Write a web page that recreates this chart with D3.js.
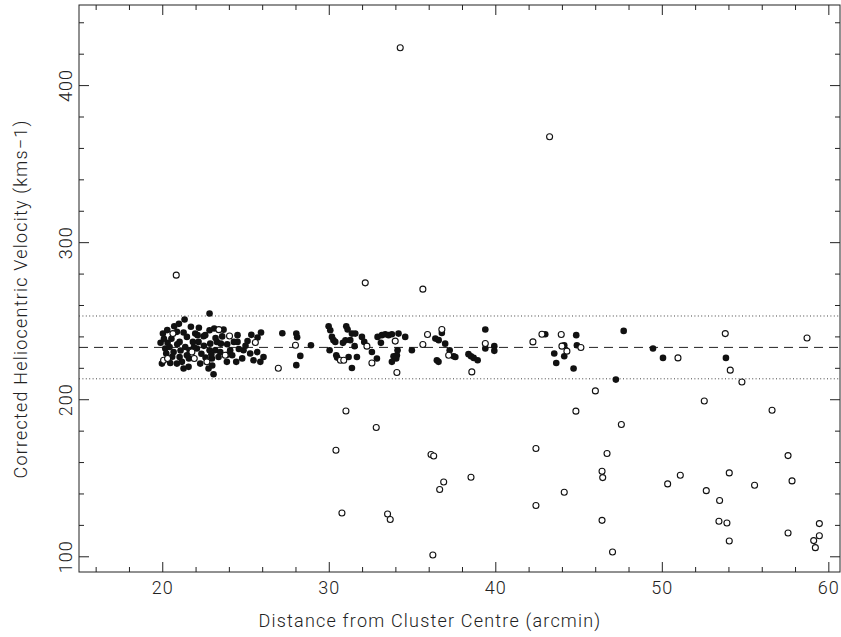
<!DOCTYPE html>
<html>
<head>
<meta charset="utf-8">
<script src="https://cdn.jsdelivr.net/npm/d3@7"></script>
<style>
    body { margin: 0; background: #fff; }
    text { font-family: "Roboto", "DejaVu Sans", sans-serif; font-weight: 300; fill: #222; }
</style>
</head>
<body>
<script>
(function () {
    // members (filled) : distance (arcmin), velocity (km/s)
    var memberDist = [
        20.04, 20.72, 20.88, 21.34, 21.28, 21.72, 21.98, 22.12, 22.48, 20.32, 20.18, 20.44, 20.24, 20.68, 19.98,
        20.48, 20.88, 21.18, 21.28, 21.04, 21.48, 21.38, 21.64, 22.08, 22.28, 21.58, 21.04, 21.84, 22.18, 21.48,
        22.84, 22.84, 23.12, 23.68, 24.52, 24.52, 22.88, 23.28, 23.52, 23.18, 22.84, 23.48, 23.38, 22.78, 23.08,
        22.98, 23.88, 24.44, 24.08, 22.58, 25.12, 24.88, 25.28, 25.48, 25.72, 25.93, 25.89, 26.08,
        19.90, 20.10, 20.55, 20.60, 20.90, 21.10, 21.60, 21.90, 22.35, 22.50, 22.60, 22.95, 23.20, 23.60, 23.90,
        24.20, 24.60, 24.80, 25.00, 25.35, 25.70, 23.00, 21.00, 20.30, 22.20, 23.90, 24.30,
        27.21, 28.05, 28.10, 28.29, 28.05, 28.93,
        29.99, 30.09, 30.19, 30.28, 30.39, 30.05, 30.45, 30.50, 31.05, 31.13, 30.85, 31.00, 31.29, 31.39, 31.19,
        31.39, 31.59, 31.55, 31.69, 31.99, 32.13, 32.59, 32.89, 32.93, 33.19, 33.39, 33.59, 33.79, 33.13, 34.19,
        34.13, 34.09, 33.89, 34.05, 33.79, 34.59, 34.99,
        36.40, 36.60, 36.79, 36.99, 36.49, 36.59, 37.26, 37.50, 37.60, 38.39, 38.54, 38.70, 38.94, 39.40, 39.40,
        39.94, 39.94,
        43.00, 44.14, 44.86, 44.90, 43.54, 43.66, 44.14, 44.70, 47.24, 47.71,
        49.47, 50.07, 53.85
    ];
    var memberVel = [
        241.8, 246.5, 242.9, 250.8, 242.5, 246.1, 241.8, 240.8, 240.1, 235.9, 232.3, 233.3, 229.1, 230.1, 222.7,
        223.1, 222.7, 223.8, 219.6, 226.9, 228.0, 233.3, 231.2, 232.3, 222.7, 220.6, 236.5, 236.5, 236.5, 239.7,
        254.6, 243.9, 245.0, 244.3, 240.8, 236.5, 235.4, 236.5, 235.4, 231.2, 231.2, 230.1, 226.9, 219.6, 215.9,
        225.9, 223.8, 223.8, 231.2, 240.8, 237.1, 231.2, 229.1, 224.8, 239.3, 242.5, 223.8, 226.9,
        236.0, 238.5, 238.5, 227.0, 235.0, 231.0, 226.0, 233.0, 229.0, 234.0, 226.5, 228.5, 239.0, 240.0, 235.0,
        228.0, 232.0, 226.0, 234.0, 241.0, 230.0, 221.5, 248.0, 244.0, 245.5, 228.3, 236.5,
        242.0, 241.8, 239.5, 227.6, 221.7, 234.4,
        246.5, 243.9, 239.7, 237.6, 236.5, 231.2, 228.0, 226.5, 246.5, 244.4, 235.9, 237.5, 237.6, 241.8, 226.9,
        219.9, 241.8, 233.8, 226.9, 239.7, 236.5, 230.1, 225.9, 239.7, 240.8, 241.4, 240.8, 241.4, 235.9, 241.8,
        231.2, 228.0, 227.4, 225.9, 223.8, 239.7, 231.2,
        238.6, 237.6, 242.2, 235.4, 224.8, 223.8, 231.2, 227.4, 226.9, 228.7, 227.4, 226.3, 224.8, 244.4, 232.3,
        233.8, 230.8,
        241.4, 234.4, 240.8, 234.4, 229.1, 223.1, 227.4, 219.6, 212.5, 243.5,
        232.3, 226.3, 226.3
    ];

    // non-members (open)
    var otherDist = [
        20.64, 20.08, 20.32, 21.78, 21.92, 22.68, 23.40, 24.04, 23.78, 25.59, 20.84, 26.97, 28.00,
        30.70, 30.90, 32.29, 32.59, 33.99, 34.09, 35.65, 35.93, 36.79, 37.20, 38.59, 39.40, 42.26, 42.80, 43.96,
        44.00, 44.30, 45.14, 50.97, 53.81, 54.11, 54.81, 58.72,
        34.29, 43.26, 32.19, 35.65,
        31.03, 32.85, 30.43, 36.14, 36.30, 36.90, 36.66, 38.54, 30.79, 33.53, 33.69, 36.25, 42.44, 44.84, 42.44,
        44.14,
        46.01, 52.55, 56.62, 47.57, 46.71, 46.41, 46.45, 57.58, 50.35, 51.11, 54.05, 52.67, 55.57, 57.82, 53.47,
        46.41, 53.43, 53.91, 54.05, 57.58, 59.46, 59.46, 59.12, 59.22, 47.04
    ];
    var otherVel = [
        241.8, 224.8, 225.9, 230.1, 225.9, 223.8, 244.3, 240.3, 228.0, 236.1, 279.0, 219.7, 234.4,
        224.8, 224.8, 233.8, 223.1, 237.0, 217.0, 234.8, 241.2, 244.4, 228.0, 217.4, 235.5, 236.5, 241.4, 241.2,
        233.8, 230.6, 232.9, 226.3, 241.8, 218.5, 211.0, 239.0,
        423.8, 367.1, 274.1, 270.1,
        192.5, 182.0, 167.5, 164.8, 163.9, 147.3, 142.5, 150.3, 127.6, 126.9, 123.4, 100.8, 168.6, 192.4, 132.3,
        140.8,
        205.3, 198.9, 193.0, 183.9, 165.4, 154.1, 150.1, 164.1, 146.1, 151.6, 153.1, 141.8, 145.2, 148.0, 135.5,
        122.9, 122.3, 121.2, 109.7, 114.8, 120.8, 113.1, 110.0, 105.5, 102.7
    ];

    var meanVel = 233,
        sigmaCut = 20;

    var xMajor = [20, 30, 40, 50, 60],
        yMajor = [100, 200, 300, 400];

    var width = 841,
        height = 637,
        left = 79,
        right = 840,
        top = 5,
        bottom = 572;

    var svg = d3.select("body").append("svg")
        .attr("width", width)
        .attr("height", height);

    var x = d3.scaleLinear().domain([15, 60.7]).range([left, right]);
    var y = d3.scaleLinear().domain([90, 451]).range([bottom, top]);

    var xMinor = d3.range(16, 61, 2).filter(function (d) { return d % 10 !== 0; });
    var yMinor = d3.range(100, 451, 20).filter(function (d) { return d % 100 !== 0; });

    function styleAxis(g) {
        g.select(".domain").remove();
        g.selectAll("line").attr("stroke", "#222").attr("stroke-width", 1);
    }

    // ticks on all four sides, pointing inward
    svg.append("g").attr("transform", "translate(0," + bottom + ")")
        .call(d3.axisBottom(x).tickValues(xMajor).tickSize(-10).tickPadding(9).tickFormat(d3.format("d")))
        .call(styleAxis)
        .selectAll("text")
        .style("font-size", "18px")
        .style("letter-spacing", "1px")
        .attr("fill", "#222");
    svg.append("g").attr("transform", "translate(0," + bottom + ")")
        .call(d3.axisBottom(x).tickValues(xMinor).tickSize(-5).tickFormat(""))
        .call(styleAxis);
    svg.append("g").attr("transform", "translate(0," + top + ")")
        .call(d3.axisTop(x).tickValues(xMajor).tickSize(-10).tickFormat(""))
        .call(styleAxis);
    svg.append("g").attr("transform", "translate(0," + top + ")")
        .call(d3.axisTop(x).tickValues(xMinor).tickSize(-5).tickFormat(""))
        .call(styleAxis);

    var yAxis = svg.append("g").attr("transform", "translate(" + left + ",0)")
        .call(d3.axisLeft(y).tickValues(yMajor).tickSize(-10).tickFormat(d3.format("d")))
        .call(styleAxis);
    yAxis.selectAll("text")
        .attr("x", null)
        .attr("dy", null)
        .attr("text-anchor", "middle")
        .attr("transform", "translate(-7,0) rotate(-90)")
        .style("font-size", "18px")
        .style("letter-spacing", "1px")
        .attr("fill", "#222");
    svg.append("g").attr("transform", "translate(" + left + ",0)")
        .call(d3.axisLeft(y).tickValues(yMinor).tickSize(-5).tickFormat(""))
        .call(styleAxis);
    svg.append("g").attr("transform", "translate(" + right + ",0)")
        .call(d3.axisRight(y).tickValues(yMajor).tickSize(-10).tickFormat(""))
        .call(styleAxis);
    svg.append("g").attr("transform", "translate(" + right + ",0)")
        .call(d3.axisRight(y).tickValues(yMinor).tickSize(-5).tickFormat(""))
        .call(styleAxis);

    // frame
    svg.append("rect")
        .attr("x", left)
        .attr("y", top)
        .attr("width", right - left)
        .attr("height", bottom - top)
        .attr("fill", "none")
        .attr("stroke", "#222")
        .attr("stroke-width", 1);

    // mean and +/- cut
    svg.append("line")
        .attr("x1", left).attr("x2", right)
        .attr("y1", y(meanVel)).attr("y2", y(meanVel))
        .attr("stroke", "#222")
        .attr("stroke-dasharray", "9,6");
    [meanVel + sigmaCut, meanVel - sigmaCut].forEach(function (v) {
        svg.append("line")
            .attr("x1", left).attr("x2", right)
            .attr("y1", y(v)).attr("y2", y(v))
            .attr("stroke", "#444")
            .attr("stroke-dasharray", "1,2.4");
    });

    svg.append("g").selectAll("circle")
        .data(memberDist)
        .enter()
        .append("circle")
        .attr("cx", function (d) { return x(d); })
        .attr("cy", function (d, i) { return y(memberVel[i]); })
        .attr("r", 3.3)
        .attr("fill", "#111");

    svg.append("g").selectAll("circle")
        .data(otherDist)
        .enter()
        .append("circle")
        .attr("cx", function (d) { return x(d); })
        .attr("cy", function (d, i) { return y(otherVel[i]); })
        .attr("r", 3)
        .attr("fill", "#fff")
        .attr("stroke", "#111")
        .attr("stroke-width", 1.1);

    // axis titles
    svg.append("text")
        .attr("x", 430)
        .attr("y", 627)
        .attr("text-anchor", "middle")
        .style("font-size", "18px")
        .style("letter-spacing", "1.2px")
        .attr("fill", "#222")
        .text("Distance from Cluster Centre (arcmin)");

    svg.append("text")
        .attr("transform", "translate(27,299) rotate(-90)")
        .attr("text-anchor", "middle")
        .style("font-size", "18px")
        .style("letter-spacing", "1.2px")
        .attr("fill", "#222")
        .text("Corrected Heliocentric Velocity (kms\u22121)");
})();
</script>
</body>
</html>
